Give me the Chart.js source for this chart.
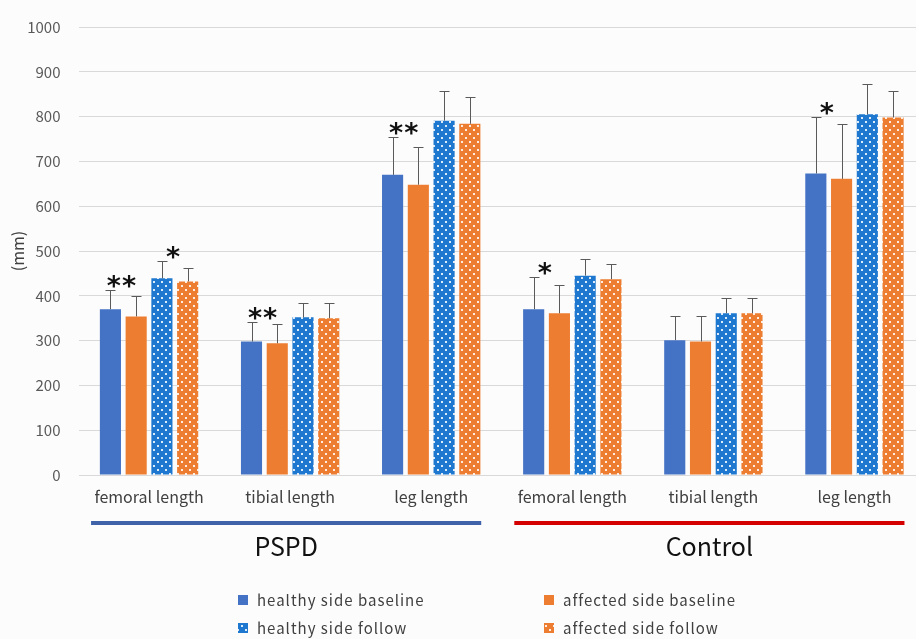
<!DOCTYPE html>
<html>
<head>
<meta charset="utf-8">
<script src="https://cdn.jsdelivr.net/npm/chart.js@4/dist/chart.umd.min.js"></script>
<style>
  html, body { margin: 0; padding: 0; background: #fcfcfc; overflow: hidden; }
  #wrap { width: 925px; height: 639px; }
</style>
</head>
<body>
<div id="wrap"><canvas id="chart" width="925" height="639"></canvas></div>
<script>
const categories = ['femoral length', 'tibial length', 'leg length', 'femoral length', 'tibial length', 'leg length']
const seriesLabels = ['healthy side baseline', 'affected side baseline', 'healthy side follow', 'affected side follow']

const healthyBaseline = [370, 298, 670, 370, 301, 673]
const affectedBaseline = [354, 294, 648, 361, 298, 661]
const healthyFollow = [439, 352, 791, 445, 361, 805]
const affectedFollow = [432, 350, 784, 437, 361, 798]

const healthyBaselineSD = [44, 43, 85, 71, 55, 127]
const affectedBaselineSD = [45, 42, 85, 64, 56, 123]
const healthyFollowSD = [38, 33, 66, 38, 33, 67]
const affectedFollowSD = [29, 33, 60, 33, 33, 59]

const yTicks = [0, 100, 200, 300, 400, 500, 600, 700, 800, 900, 1000]

const groups = [
  { label: 'PSPD', first: 0, last: 2, color: '#4062a8' },
  { label: 'Control', first: 3, last: 5, color: '#d40000' },
]

// significance marks: category, bar index, text
const sigMarks = [
  { cat: 0, bar: 0, text: '**' },
  { cat: 0, bar: 2, text: '*' },
  { cat: 1, bar: 0, text: '**' },
  { cat: 2, bar: 0, text: '**' },
  { cat: 3, bar: 0, text: '*' },
  { cat: 5, bar: 0, text: '*' },
]

const FONT = '"Noto Sans CJK JP", "Noto Sans", sans-serif'

function dotPattern(base) {
  const c = document.createElement('canvas')
  c.width = 8
  c.height = 8
  const g = c.getContext('2d')
  g.fillStyle = base
  g.fillRect(0, 0, 8, 8)
  g.fillStyle = 'rgba(255,255,255,0.85)'
  g.fillRect(1, 1, 2, 2)
  g.fillRect(5, 5, 2, 2)
  return g.createPattern(c, 'repeat')
}

const ctx = document.getElementById('chart').getContext('2d')
const fills = ['#4472c4', '#ed7d31', dotPattern('#1f78cf'), dotPattern('#ed7d31')]
const values = [healthyBaseline, affectedBaseline, healthyFollow, affectedFollow]
const sds = [healthyBaselineSD, affectedBaselineSD, healthyFollowSD, affectedFollowSD]

const errorBars = {
  id: 'errorBars',
  afterDatasetsDraw(chart) {
    const c = chart.ctx
    const y = chart.scales.y
    c.save()
    c.strokeStyle = '#5a5a5a'
    c.lineWidth = 1
    chart.data.datasets.forEach((ds, di) => {
      const meta = chart.getDatasetMeta(di)
      meta.data.forEach((el, i) => {
        const x = Math.round(el.x) + 0.5
        const top = Math.round(y.getPixelForValue(ds.data[i] + sds[di][i])) + 0.5
        c.beginPath()
        c.moveTo(x, el.y)
        c.lineTo(x, top)
        c.moveTo(x - 5, top)
        c.lineTo(x + 5, top)
        c.stroke()
      })
    })
    // asterisks
    c.fillStyle = '#111'
    c.font = 'bold 27px "DejaVu Sans", sans-serif'
    c.letterSpacing = '1px'
    c.textAlign = 'center'
    c.textBaseline = 'alphabetic'
    sigMarks.forEach(m => {
      const el = chart.getDatasetMeta(m.bar).data[m.cat]
      const ds = chart.data.datasets[m.bar]
      const top = y.getPixelForValue(ds.data[m.cat] + sds[m.bar][m.cat])
      const x = el.x + el.width / 2 + 1
      c.fillText(m.text, x, top + 5)
    })
    c.restore()
  },
  afterDraw(chart) {
    const c = chart.ctx
    const xs = chart.scales.x
    c.save()
    groups.forEach(g => {
      const x0 = xs.getPixelForValue(g.first) - 58
      const x1 = xs.getPixelForValue(g.last) + 50
      c.fillStyle = g.color
      c.fillRect(x0, 521, x1 - x0, 4)
      c.fillStyle = '#111'
      c.font = '25px ' + FONT
      c.textAlign = 'center'
      c.textBaseline = 'middle'
      c.fillText(g.label, (x0 + x1) / 2, 546)
    })
    // legend 2x2
    const cols = [243, 549]
    const rows = [600, 628]
    c.font = '15px ' + FONT
    c.letterSpacing = '1px'
    c.textAlign = 'left'
    chart.data.datasets.forEach((ds, i) => {
      const lx = cols[i % 2]
      const ly = rows[Math.floor(i / 2)]
      c.fillStyle = ds.backgroundColor
      c.fillRect(lx - 5, ly - 5, 10, 10)
      c.fillStyle = '#404040'
      c.fillText(ds.label, lx + 14, ly)
    })
    c.restore()
  },
}

new Chart(ctx, {
  type: 'bar',
  data: {
    labels: categories,
    datasets: values.map((v, i) => ({
      label: seriesLabels[i],
      data: v,
      backgroundColor: fills[i],
      borderWidth: 0,
      categoryPercentage: 0.73,
      barPercentage: 0.82,
    })),
  },
  options: {
    responsive: false,
    animation: false,
    layout: { padding: { left: 0, right: 0, top: 26, bottom: 124 } },
    plugins: {
      legend: { display: false },
      tooltip: { enabled: false },
    },
    scales: {
      x: {
        grid: { display: false },
        border: { display: false },
        ticks: { color: '#404040', font: { family: FONT, size: 16 }, padding: 4 },
        afterFit(scale) { scale.height = 40 },
      },
      y: {
        min: 0,
        max: 1000,
        afterBuildTicks(scale) { scale.ticks = yTicks.map(v => ({ value: v })) },
        grid: { color: '#d9d9d9', drawTicks: false },
        border: { display: false },
        ticks: {
          color: '#595959',
          font: { family: FONT, size: 15 },
          padding: 18,
          callback: v => String(v),
        },
        title: { display: true, text: '(mm)', color: '#404040', font: { family: FONT, size: 16 }, padding: { top: 8, bottom: 0 } },
        afterFit(scale) { scale.width = 78.5 },
      },
    },
  },
  plugins: [errorBars],
})
</script>
</body>
</html>
